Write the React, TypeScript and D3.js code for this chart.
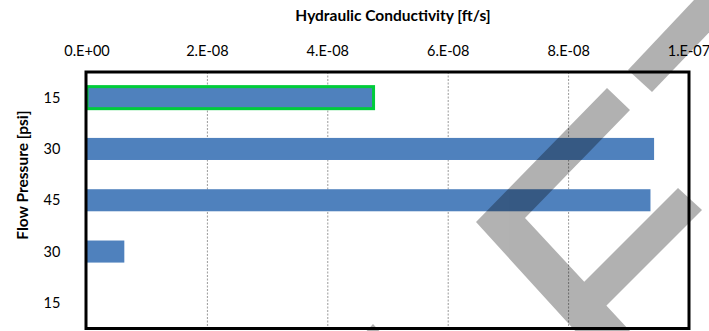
import React from "react";
import * as d3 from "d3";

const categories: string[] = ["15", "30", "45", "30", "15"];
const conductivity: number[] = [4.76e-8, 9.42e-8, 9.36e-8, 0.62e-8, 0];
const highlighted: boolean[] = [true, false, false, false, false];
const tickValues: number[] = [0, 2e-8, 4e-8, 6e-8, 8e-8, 1e-7];
const tickLabels: string[] = ["0.E+00", "2.E-08", "4.E-08", "6.E-08", "8.E-08", "1.E-07"];

const W = 709;
const H = 331;
const plot = { left: 87, right: 689, top: 72, bottom: 328.5 };
const FONT = "Lato, 'Open Sans', sans-serif";

// decorative watermark shapes (not data)
const watermark: [number, number][][] = [
  [[628, 70], [652, 92], [740, 0], [694, 0]],
  [[607, 88], [630, 110], [525, 218], [643, 345], [588, 345], [476, 222]],
  [[678, 188], [702, 210], [595, 317], [571, 295]],
  [[373, 324], [362, 336], [384, 336]],
];

export default function App() {
  const x = d3.scaleLinear().domain([0, 1e-7]).range([plot.left, plot.right]);
  const y = d3
    .scaleBand<number>()
    .domain(categories.map((_, i) => i))
    .range([plot.top, plot.bottom])
    .paddingInner(0.57)
    .paddingOuter(0.285);
  const line = d3.line();

  return (
    <svg
      width={W}
      height={H}
      style={{ position: "absolute", left: 0, top: 0, background: "#fff" }}
    >
      <rect x={0} y={0} width={W} height={H} fill="#fff" />
      {/* gridlines */}
      {tickValues.slice(1, -1).map((t, i) => (
        <line
          key={i}
          x1={x(t)}
          x2={x(t)}
          y1={plot.top}
          y2={plot.bottom}
          stroke="#9a9a9a"
          strokeWidth={1}
          strokeDasharray="2,1.5"
        />
      ))}
      {/* bars */}
      {conductivity.map((v, i) =>
        v > 0 ? (
          <rect
            key={i}
            x={x(0)}
            y={y(i)!}
            width={x(v) - x(0)}
            height={y.bandwidth()}
            fill="#4f81bd"
            stroke={highlighted[i] ? "#00cc3a" : "none"}
            strokeWidth={highlighted[i] ? 3 : 0}
          />
        ) : null
      )}
      {/* frame */}
      <rect
        x={plot.left - 1}
        y={plot.top}
        width={plot.right - plot.left + 1}
        height={plot.bottom - plot.top}
        fill="none"
        stroke="#000"
        strokeWidth={3}
      />
      {/* x tick labels (top) */}
      {tickValues.map((t, i) => (
        <text
          key={i}
          x={x(t)}
          y={55.5}
          textAnchor="middle"
          fontFamily={FONT}
          fontSize={14.5}
          fill="#000"
        >
          {tickLabels[i]}
        </text>
      ))}
      {/* y labels */}
      {categories.map((c, i) => (
        <text
          key={i}
          x={52}
          y={y(i)! + y.bandwidth() / 2 + 5}
          textAnchor="middle"
          fontFamily={FONT}
          fontSize={14.5}
          fill="#000"
        >
          {c}
        </text>
      ))}
      <text
        x={393}
        y={21}
        textAnchor="middle"
        fontFamily={FONT}
        fontWeight="bold"
        fontSize={15.5}
        fill="#000"
      >
        Hydraulic Conductivity [ft/s]
      </text>
      <text
        transform="translate(28,175) rotate(-90)"
        textAnchor="middle"
        fontFamily={FONT}
        fontWeight="bold"
        fontSize={15.5}
        fill="#000"
      >
        Flow Pressure [psi]
      </text>
      {/* watermark */}
      <g opacity={0.3}>
        {watermark.map((p, i) => (
          <path key={i} d={line(p)! + "Z"} fill="#000" />
        ))}
      </g>
    </svg>
  );
}
